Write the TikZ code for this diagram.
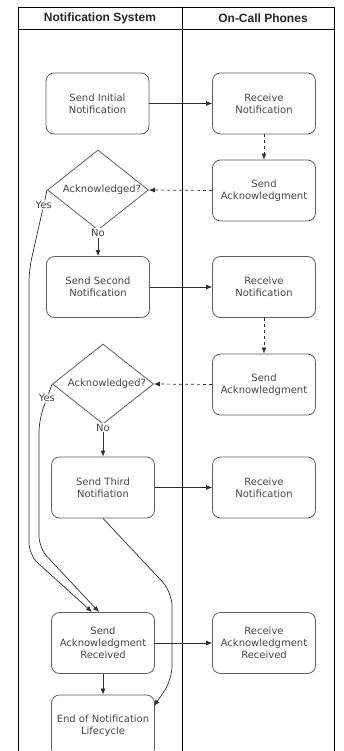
\documentclass[tikz,border=0pt]{standalone}
\usepackage{fontspec}
\setmainfont{DejaVu Sans}
\newfontfamily\headfont{Liberation Sans}
\usetikzlibrary{shapes.geometric,arrows.meta}
\definecolor{boxline}{HTML}{5E5E5E}
\definecolor{boxtext}{HTML}{454545}
\definecolor{flowline}{HTML}{2E2E2E}
\begin{document}
\begin{tikzpicture}[x=1pt, y=-1pt,
  proc/.style={draw=boxline, rounded corners=8pt, minimum width=103pt, minimum height=61pt, align=center, text=boxtext, font=\fontsize{10}{12}\selectfont, line width=0.8pt},
  decision/.style={draw=boxline, diamond, minimum width=101pt, minimum height=80pt, inner sep=0pt, line width=0.8pt},
  flow/.style={draw=flowline, line width=0.7pt, -{Latex[length=6pt,width=5pt]}},
  reply/.style={flow, dash pattern=on 3pt off 3pt},
  tag/.style={fill=white, text=boxtext, font=\fontsize{10}{12}\selectfont, inner sep=1pt}] % {{{
\useasboundingbox (0,0) rectangle (344,751);
\clip (0,0) rectangle (344,751);
% Lanes   {{{
\draw[line width=0.8pt] (18,7) rectangle (334,780);
\draw[line width=0.8pt] (18,29) -- (334,29);
\draw[line width=0.8pt] (182,7) -- (182,780);
\node[font=\headfont\bfseries\fontsize{12}{14}\selectfont, text=black!85] (lanea) at (100,18) {Notification System};
\node[font=\headfont\bfseries\fontsize{12}{14}\selectfont, text=black!85] (laneb) at (263,18) {On-Call Phones};
% }}}
% Notification system {{{
\node[proc] (init) at (97.5,103.5) {Send Initial\\Notification};
\node[decision, label={[text=boxtext, font=\fontsize{10}{12}\selectfont, xshift=4pt]center:Acknowledged?}] (ack1) at (98,190) {};
\node[proc] (second) at (98,287) {Send Second\\Notification};
\node[decision, label={[text=boxtext, font=\fontsize{10}{12}\selectfont, xshift=4pt]center:Acknowledged?}] (ack2) at (103,384) {};
\node[proc] (third) at (103,487.5) {Send Third\\Notifiation};
\node[proc] (sar) at (103,643) {Send\\Acknowledgment\\Received};
\node[proc] (endlc) at (103,725.5) {End of Notification\\Lifecycle};
% }}}
% On-call phones {{{
\node[proc] (recv1) at (264,103.5) {Receive\\Notification};
\node[proc] (sack1) at (264,190.5) {Send\\Acknowledgment};
\node[proc] (recv2) at (264,287) {Receive\\Notification};
\node[proc] (sack2) at (264,384.5) {Send\\Acknowledgment};
\node[proc] (recv3) at (264,487.5) {Receive\\Notification};
\node[proc] (rar) at (264,643) {Receive\\Acknowledgment\\Received};
% }}}
% Arrows {{{
\draw[flow] (init.east) -- (recv1.west);
\draw[reply] (recv1.south) -- (sack1.north);
\draw[reply] (sack1.west) -- (ack1.east);
\draw[flow] (ack1.south) -- node[tag, pos=0.1] {No} (second.north);
\draw[flow] (second.east) -- (recv2.west);
\draw[reply] (recv2.south) -- (sack2.north);
\draw[reply] (sack2.west) -- (ack2.east);
\draw[flow] (ack2.south) -- node[tag, pos=0.1] {No} (third.north);
\draw[flow] (third.east) -- (recv3.west);
\draw[flow] (sar.east) -- (rar.west);
\draw[flow] (sar.south) -- (endlc.north);
% yes branches
\coordinate (hit1) at (92,612);
\coordinate (hit2) at (99,612);
\coordinate (late) at (154,706);
\draw[flow, rounded corners=12pt] (ack1.west) -- node[tag, pos=0.19] {Yes} (29,270) -- (29,555) -- (hit1);
\draw[flow, rounded corners=12pt] (ack2.west) -- node[tag, pos=0.4] {Yes} (39,420) -- (39,548) -- (hit2);
\draw[flow, rounded corners=14pt] (third.south) -- (172,592) -- (172,680) -- (late);
% }}}
\end{tikzpicture} % }}}
\end{document}
